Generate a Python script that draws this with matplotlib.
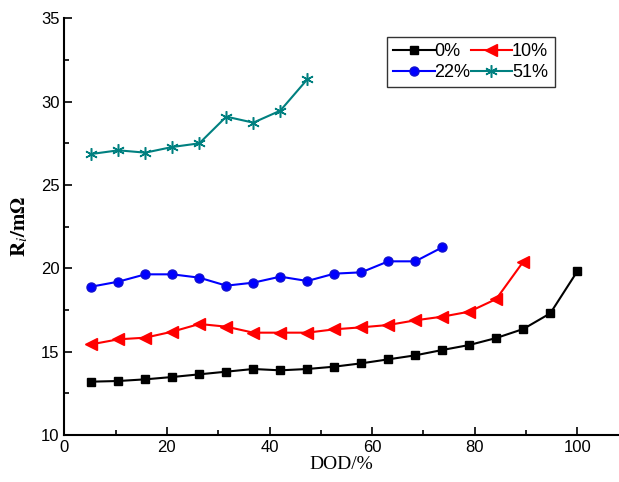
import matplotlib

matplotlib.use("Agg")
import matplotlib.pyplot as plt
import numpy as np

# depth of discharge steps (19 equal steps up to 100 %)
dod = np.arange(1, 20) * 100 / 19

r_0 = [13.2, 13.24, 13.34, 13.48, 13.64, 13.8, 13.96, 13.88, 13.96, 14.1,
       14.3, 14.54, 14.78, 15.1, 15.4, 15.82, 16.36, 17.3, 19.82]
r_10 = [15.44, 15.74, 15.84, 16.2, 16.66, 16.5, 16.14, 16.14, 16.14, 16.34,
        16.46, 16.6, 16.88, 17.1, 17.4, 18.16, 20.4]
r_22 = [18.9, 19.2, 19.64, 19.64, 19.44, 18.96, 19.14, 19.5, 19.24, 19.68,
        19.76, 20.42, 20.42, 21.26]
r_51 = [26.86, 27.08, 26.94, 27.28, 27.5, 29.1, 28.74, 29.46, 31.34]

labels = ["0%", "10%", "22%", "51%"]

plt.rcParams["font.family"] = ["Liberation Sans", "DejaVu Sans"]
plt.rcParams["mathtext.fontset"] = "stix"

fig = plt.figure(figsize=(6.19, 4.82), dpi=100)
ax = fig.add_axes([0.1039, 0.0975, 0.895, 0.8645])

lw = 1.5
h0, = ax.plot(dod[:len(r_0)], r_0, color="black", marker="s", ms=6, lw=lw, label=labels[0])
h10, = ax.plot(dod[:len(r_10)], r_10, color="red", marker="<", ms=8, lw=lw, label=labels[1])
h22, = ax.plot(dod[:len(r_22)], r_22, color="blue", marker="o", ms=6.5, lw=lw,
               markeredgecolor="#1010d0", label=labels[2])
h51, = ax.plot(dod[:len(r_51)], r_51, color="#008080", marker=(6, 2, 0), ms=9, mew=1.1,
               lw=lw, label=labels[3])

ax.set_xlim(0, 108)
ax.set_ylim(10, 35)
ax.set_xticks(np.arange(0, 101, 20))
ax.set_xticks(np.arange(0, 108, 10), minor=True)
ax.set_yticks(np.arange(10, 36, 5))
ax.set_yticks(np.arange(10, 35.1, 2.5), minor=True)
ax.tick_params(which="both", direction="in", width=1.2, labelsize=12)
ax.tick_params(which="major", length=6)
ax.tick_params(which="minor", length=3.5)
ax.spines[["top", "right"]].set_visible(False)
ax.spines[["left", "bottom"]].set_linewidth(1.5)

ax.set_xlabel("DOD/%", fontsize=14, fontfamily="Liberation Serif", labelpad=1)
ax.set_ylabel(r"$\mathbf{R}_{\mathit{i}}\mathbf{/m\Omega}$", fontsize=15, labelpad=8)

# legend fills column-wise, so order handles to get 0%/10% on the first row
leg = ax.legend([h0, h22, h10, h51], [labels[0], labels[2], labels[1], labels[3]],
                loc="upper left", bbox_to_anchor=(0.582, 0.955), ncol=2,
                fontsize=13, frameon=True, fancybox=False, edgecolor="black",
                handlelength=2.3, handletextpad=0.0, columnspacing=0.0,
                labelspacing=0.2, borderpad=0.35, borderaxespad=0)
leg.get_frame().set_linewidth(1.0)

fig.savefig("out.png", dpi=100)
